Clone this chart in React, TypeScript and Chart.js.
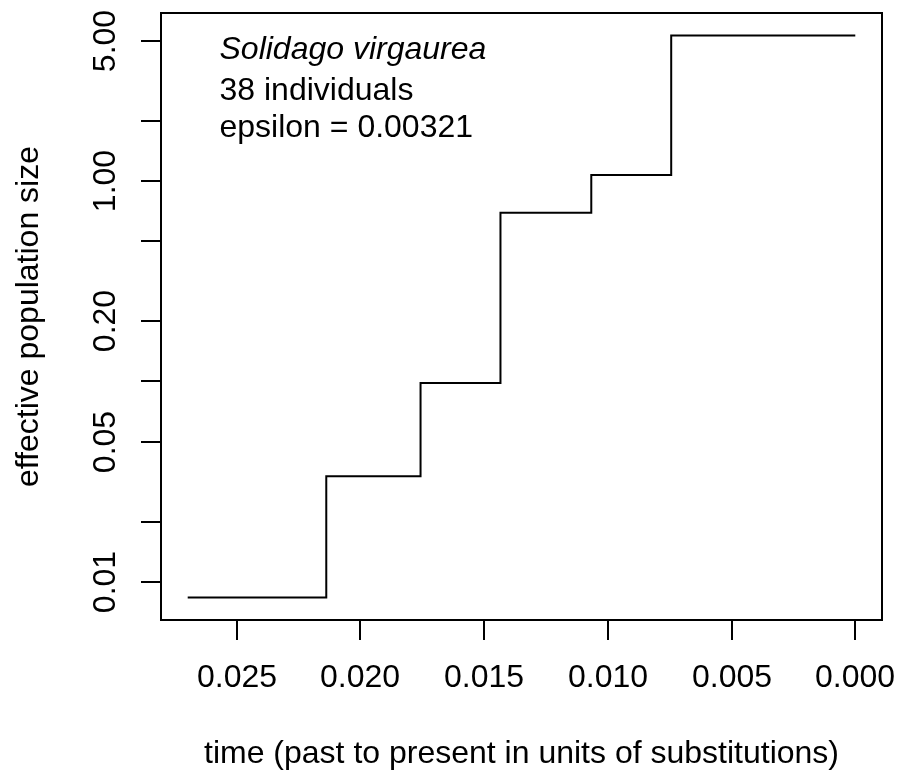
import React, { useEffect, useRef } from "react";
import { Chart, registerables } from "chart.js";

Chart.register(...registerables);

// Step boundaries (time, past -> present) and effective population size for each epoch
const timeStarts = [0.02698, 0.02138, 0.01757, 0.01434, 0.01067, 0.00744, 0];
const popSizes = [0.00836, 0.0337, 0.0983, 0.693, 1.071, 5.314, 5.314];

const xTicks = [0.025, 0.02, 0.015, 0.01, 0.005, 0];
const xTickLabels = ["0.025", "0.020", "0.015", "0.010", "0.005", "0.000"];
const yTicks = [0.01, 0.02, 0.05, 0.1, 0.2, 0.5, 1, 2, 5];
const yTickLabels = ["0.01", "", "0.05", "", "0.20", "", "1.00", "", "5.00"];

const annotationLines = ["Solidago virgaurea", "38 individuals", "epsilon = 0.00321"];
const xTitle = "time (past to present in units of substitutions)";
const yTitle = "effective population size";

const FONT = "Liberation Sans, Arial, Helvetica, sans-serif";
const FS = 32;

export default function App() {
  const ref = useRef<HTMLCanvasElement | null>(null);

  useEffect(() => {
    if (!ref.current) return;
    const xMinD = Math.min(...timeStarts);
    const xMaxD = Math.max(...timeStarts);
    const xPad = (xMaxD - xMinD) * 0.04;
    const lMin = Math.log10(Math.min(...popSizes));
    const lMax = Math.log10(Math.max(...popSizes));
    const lPad = (lMax - lMin) * 0.04;

    const axesPlugin = {
      id: "rAxes",
      afterDraw(chart: any) {
        const ctx = chart.ctx as CanvasRenderingContext2D;
        const { left, right, top, bottom } = chart.chartArea;
        const xs = chart.scales.x;
        const ys = chart.scales.y;
        ctx.save();
        ctx.strokeStyle = "#000";
        ctx.fillStyle = "#000";
        ctx.lineWidth = 2;
        ctx.strokeRect(left, top, right - left, bottom - top);
        // x ticks
        ctx.font = `${FS}px ${FONT}`;
        ctx.textAlign = "center";
        ctx.textBaseline = "alphabetic";
        xTicks.forEach((v, i) => {
          const px = Math.round(xs.getPixelForValue(v));
          ctx.beginPath();
          ctx.moveTo(px, bottom);
          ctx.lineTo(px, bottom + 20);
          ctx.stroke();
          ctx.fillText(xTickLabels[i], px, 687);
        });
        // y ticks
        yTicks.forEach((v, i) => {
          const py = Math.round(ys.getPixelForValue(v));
          ctx.beginPath();
          ctx.moveTo(left, py);
          ctx.lineTo(left - 20, py);
          ctx.stroke();
          if (yTickLabels[i]) {
            ctx.save();
            ctx.translate(114.5, py);
            ctx.rotate(-Math.PI / 2);
            ctx.textAlign = "center";
            ctx.fillText(yTickLabels[i], 0, 0);
            ctx.restore();
          }
        });
        // axis titles
        ctx.textAlign = "center";
        ctx.fillText(xTitle, (left + right) / 2, 763);
        ctx.save();
        ctx.translate(38, (top + bottom) / 2);
        ctx.rotate(-Math.PI / 2);
        ctx.fillText(yTitle, 0, 0);
        ctx.restore();
        // annotation
        ctx.textAlign = "left";
        const baselines = [59, 100, 137];
        annotationLines.forEach((t, i) => {
          ctx.font = i === 0 ? `italic ${FS}px ${FONT}` : `${FS}px ${FONT}`;
          ctx.fillText(t, 219.5, baselines[i]);
        });
        ctx.restore();
      },
    };

    const chart = new Chart(ref.current, {
      type: "line",
      data: {
        datasets: [
          {
            data: timeStarts.map((t, i) => ({ x: t, y: popSizes[i] })),
            stepped: "before",
            borderColor: "#000",
            borderWidth: 2,
            pointRadius: 0,
            fill: false,
          },
        ],
      },
      options: {
        animation: false,
        responsive: true,
        maintainAspectRatio: false,
        layout: { padding: { left: 161, right: 16, top: 13, bottom: 151 } },
        plugins: { legend: { display: false }, tooltip: { enabled: false } },
        events: [],
        scales: {
          x: {
            type: "linear",
            display: false,
            reverse: true,
            min: xMinD - xPad,
            max: xMaxD + xPad,
          },
          y: {
            type: "logarithmic",
            display: false,
            min: Math.pow(10, lMin - lPad),
            max: Math.pow(10, lMax + lPad),
          },
        },
      },
      plugins: [axesPlugin],
    });
    return () => chart.destroy();
  }, []);

  return (
    <div style={{ position: "absolute", left: 0, top: 0, width: 898, height: 771, background: "#fff" }}>
      <canvas ref={ref} />
    </div>
  );
}
